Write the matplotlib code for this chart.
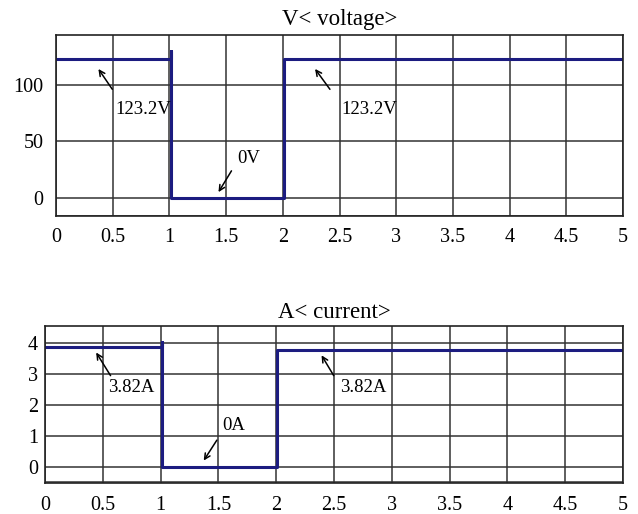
import matplotlib
matplotlib.use("Agg")
import matplotlib.pyplot as plt

plt.rcParams['font.family'] = ['Liberation Serif', 'DejaVu Serif']

# voltage trace (step with a small overshoot at t=1)
v_time = [0, 1.01, 1.01, 1.01, 2.01, 2.01, 5]
v_vals = [123.2, 123.2, 130, 0, 0, 122.6, 122.6]

# current trace
i_time = [0, 1.01, 1.01, 1.01, 2.01, 2.01, 5]
i_vals = [3.86, 3.86, 4.02, 0, 0, 3.79, 3.79]

x_ticks = [0, 0.5, 1, 1.5, 2, 2.5, 3, 3.5, 4, 4.5, 5]
x_labels = ['0', '0.5', '1', '1.5', '2', '2.5', '3', '3.5', '4', '4.5', '5']
v_ticks = [-16, 0, 50, 100]
i_ticks = [-0.5, 0, 1, 2, 3, 4]

line_color = '#1c1c80'
grid_color = '#333333'

fig = plt.figure(figsize=(6.38, 5.14), dpi=100)
ax1 = fig.add_axes([0.0878, 0.5798, 0.8887, 0.3521])
ax2 = fig.add_axes([0.0705, 0.0603, 0.9060, 0.3055])


def style(ax, yticks, ylim, ypad):
    ax.set_xlim(0, 5)
    ax.set_ylim(*ylim)
    ax.set_xticks(x_ticks)
    ax.set_xticklabels(x_labels)
    ax.set_yticks(yticks)
    ax.grid(True, color=grid_color, linewidth=1.1)
    ax.tick_params(length=0, labelsize=14.5)
    ax.tick_params(axis='x', pad=9)
    ax.tick_params(axis='y', pad=ypad)
    for s in ax.spines.values():
        s.set_color('#222222')
        s.set_linewidth(1.2)
    ax.set_axisbelow(True)


ax1.plot(v_time, v_vals, color=line_color, linewidth=2.2)
style(ax1, v_ticks, (-16, 144), 9)
ax1.set_yticklabels(['', '0', '50', '100'])
ax1.set_title('V< voltage>', fontsize=16.5, pad=7)

arrow = dict(arrowstyle='->', color='black', lw=1.1)
ax1.annotate('', xy=(0.36, 116), xytext=(0.51, 94), arrowprops=arrow)
ax1.text(0.52, 78, '123.2V', fontsize=13.5, va='center', ha='left')
ax1.annotate('', xy=(2.27, 116), xytext=(2.43, 94), arrowprops=arrow)
ax1.text(2.52, 78, '123.2V', fontsize=13.5, va='center', ha='left')
ax1.annotate('', xy=(1.42, 3), xytext=(1.56, 26), arrowprops=arrow)
ax1.text(1.60, 35, '0V', fontsize=13.5, va='center', ha='left')

ax2.plot(i_time, i_vals, color=line_color, linewidth=2.2)
style(ax2, i_ticks, (-0.52, 4.55), 5)
ax2.set_yticklabels(['', '0', '1', '2', '3', '4'])
ax2.set_title('A< current>', fontsize=16.5, pad=6)

ax2.annotate('', xy=(0.43, 3.77), xytext=(0.58, 2.87), arrowprops=arrow)
ax2.text(0.545, 2.55, '3.82A', fontsize=13.5, va='center', ha='left')
ax2.annotate('', xy=(2.38, 3.68), xytext=(2.51, 2.87), arrowprops=arrow)
ax2.text(2.55, 2.55, '3.82A', fontsize=13.5, va='center', ha='left')
ax2.annotate('', xy=(1.36, 0.13), xytext=(1.5, 0.94), arrowprops=arrow)
ax2.text(1.53, 1.35, '0A', fontsize=13.5, va='center', ha='left')

fig.savefig('out.png', dpi=100)
